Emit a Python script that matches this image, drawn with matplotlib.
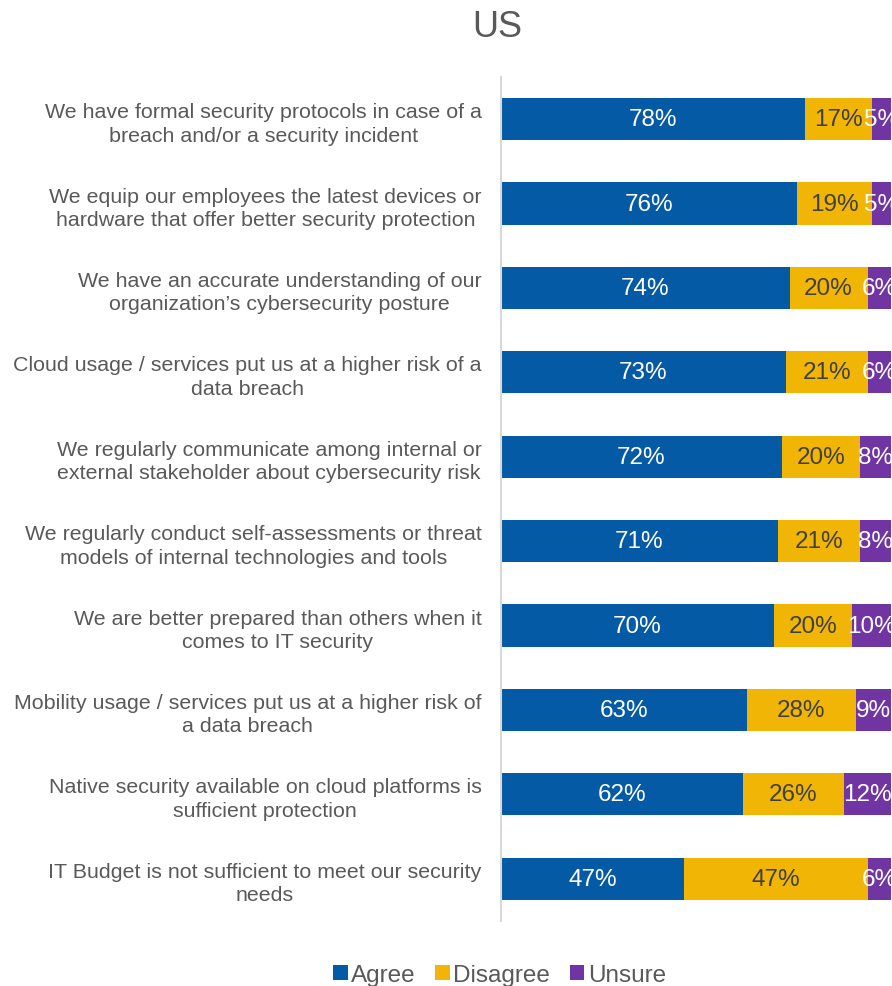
import matplotlib.pyplot as plt
import numpy as np

plt.rcParams['font.family'] = ['Liberation Sans', 'DejaVu Sans']

# survey statements, top to bottom
statements = [
    'We have formal security protocols in case of a\nbreach and/or a security incident',
    'We equip our employees the latest devices or\nhardware that offer better security protection',
    'We have an accurate understanding of our\norganization\u2019s cybersecurity posture',
    'Cloud usage / services put us at a higher risk of a\ndata breach',
    'We regularly communicate among internal or\nexternal stakeholder about cybersecurity risk',
    'We regularly conduct self-assessments or threat\nmodels of internal technologies and tools',
    'We are better prepared than others when it\ncomes to IT security',
    'Mobility usage / services put us at a higher risk of\na data breach',
    'Native security available on cloud platforms is\nsufficient protection',
    'IT Budget is not sufficient to meet our security\nneeds',
]
agree = [78, 76, 74, 73, 72, 71, 70, 63, 62, 47]
disagree = [17, 19, 20, 21, 20, 21, 20, 28, 26, 47]
unsure = [5, 5, 6, 6, 8, 8, 10, 9, 12, 6]

series = [('Agree', agree, '#055AA5', 'white'),
          ('Disagree', disagree, '#F1B505', '#404040'),
          ('Unsure', unsure, '#7035A2', 'white')]

fig = plt.figure(figsize=(8.92, 9.87), dpi=100)
ax = fig.add_axes([0.5617, 0.0659, 0.4372, 0.8551])

y = np.arange(len(statements))
left = np.zeros(len(statements))
for name, vals, col, tcol in series:
    vals = np.array(vals, dtype=float)
    ax.barh(y, vals, left=left, height=0.5, color=col, label=name,
            edgecolor='none')
    for yi, l, v in zip(y, left, vals):
        ax.text(l + v / 2, yi, f'{int(v)}%', ha='center', va='center',
                color=tcol, fontsize=17.5, clip_on=False)
    left += vals

ax.set_xlim(0, 100)
ax.set_ylim(len(statements) - 0.5, -0.5)
ax.set_yticks(y)
ax.set_yticklabels(statements, fontsize=15.4, color='#595959',
                   ha='right', multialignment='center', linespacing=1.3)
ax.tick_params(axis='y', length=0, pad=14)
ax.set_xticks([])
for s in ['top', 'right', 'bottom']:
    ax.spines[s].set_visible(False)
ax.spines['left'].set_color('#D9D9D9')
ax.spines['left'].set_linewidth(1.5)

fig.text(0.558, 0.972, 'US', ha='center', va='center', fontsize=26,
         color='#595959')

fig.legend(loc='lower center', bbox_to_anchor=(0.56, -0.022), ncol=3,
           frameon=False, fontsize=17.5, handlelength=0.6, handleheight=0.6,
           handletextpad=0.15, columnspacing=0.8, labelcolor='#595959')

fig.savefig('out.png', dpi=100)
